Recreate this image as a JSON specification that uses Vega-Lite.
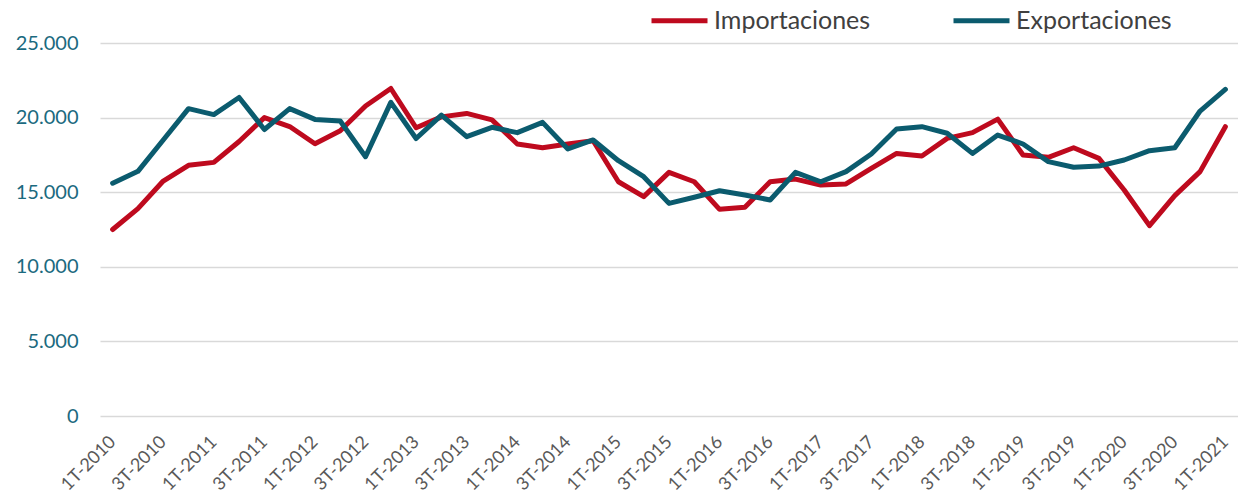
{
  "$schema": "https://vega.github.io/schema/vega-lite/v6.json",
  "width": 1138,
  "height": 373,
  "autosize": {"type": "none"},
  "padding": {"left": 100, "top": 43, "right": 0, "bottom": 80},
  "background": "#ffffff",
  "config": {
    "view": {"stroke": null},
    "locale": {"number": {"decimal": ",", "thousands": ".", "grouping": [3], "currency": ["", " €"]}},
    "axis": {"labelFont": "Lato", "titleFont": "Lato"},
    "legend": {"labelFont": "Lato"}
  },
  "data": {
    "values": [
      {"t": "1T-2010", "Importaciones": 12500, "Exportaciones": 15600},
      {"t": "2T-2010", "Importaciones": 13900, "Exportaciones": 16400},
      {"t": "3T-2010", "Importaciones": 15750, "Exportaciones": 18500},
      {"t": "4T-2010", "Importaciones": 16800, "Exportaciones": 20600},
      {"t": "1T-2011", "Importaciones": 17000, "Exportaciones": 20200},
      {"t": "2T-2011", "Importaciones": 18400, "Exportaciones": 21350},
      {"t": "3T-2011", "Importaciones": 20000, "Exportaciones": 19200},
      {"t": "4T-2011", "Importaciones": 19400, "Exportaciones": 20600},
      {"t": "1T-2012", "Importaciones": 18250, "Exportaciones": 19880},
      {"t": "2T-2012", "Importaciones": 19120, "Exportaciones": 19770},
      {"t": "3T-2012", "Importaciones": 20780, "Exportaciones": 17380},
      {"t": "4T-2012", "Importaciones": 21950, "Exportaciones": 21020},
      {"t": "1T-2013", "Importaciones": 19320, "Exportaciones": 18600},
      {"t": "2T-2013", "Importaciones": 20050, "Exportaciones": 20170},
      {"t": "3T-2013", "Importaciones": 20280, "Exportaciones": 18720},
      {"t": "4T-2013", "Importaciones": 19850, "Exportaciones": 19350},
      {"t": "1T-2014", "Importaciones": 18230, "Exportaciones": 18990},
      {"t": "2T-2014", "Importaciones": 17980, "Exportaciones": 19680},
      {"t": "3T-2014", "Importaciones": 18230, "Exportaciones": 17900},
      {"t": "4T-2014", "Importaciones": 18450, "Exportaciones": 18500},
      {"t": "1T-2015", "Importaciones": 15700, "Exportaciones": 17110},
      {"t": "2T-2015", "Importaciones": 14700, "Exportaciones": 16040},
      {"t": "3T-2015", "Importaciones": 16330, "Exportaciones": 14250},
      {"t": "4T-2015", "Importaciones": 15700, "Exportaciones": 14660},
      {"t": "1T-2016", "Importaciones": 13850, "Exportaciones": 15100},
      {"t": "2T-2016", "Importaciones": 13990, "Exportaciones": 14810},
      {"t": "3T-2016", "Importaciones": 15700, "Exportaciones": 14480},
      {"t": "4T-2016", "Importaciones": 15880, "Exportaciones": 16330},
      {"t": "1T-2017", "Importaciones": 15480, "Exportaciones": 15700},
      {"t": "2T-2017", "Importaciones": 15550, "Exportaciones": 16380},
      {"t": "3T-2017", "Importaciones": 16600, "Exportaciones": 17560},
      {"t": "4T-2017", "Importaciones": 17600, "Exportaciones": 19230},
      {"t": "1T-2018", "Importaciones": 17430, "Exportaciones": 19390},
      {"t": "2T-2018", "Importaciones": 18610, "Exportaciones": 18950},
      {"t": "3T-2018", "Importaciones": 18990, "Exportaciones": 17600},
      {"t": "4T-2018", "Importaciones": 19900, "Exportaciones": 18830},
      {"t": "1T-2019", "Importaciones": 17490, "Exportaciones": 18230},
      {"t": "2T-2019", "Importaciones": 17340, "Exportaciones": 17050},
      {"t": "3T-2019", "Importaciones": 17980, "Exportaciones": 16670},
      {"t": "4T-2019", "Importaciones": 17270, "Exportaciones": 16750},
      {"t": "1T-2020", "Importaciones": 15150, "Exportaciones": 17160},
      {"t": "2T-2020", "Importaciones": 12760, "Exportaciones": 17780},
      {"t": "3T-2020", "Importaciones": 14770, "Exportaciones": 17980},
      {"t": "4T-2020", "Importaciones": 16380, "Exportaciones": 20440},
      {"t": "1T-2021", "Importaciones": 19390, "Exportaciones": 21890}
    ]
  },
  "transform": [
    {"fold": ["Importaciones", "Exportaciones"], "as": ["serie", "valor"]}
  ],
  "encoding": {
    "x": {
      "field": "t",
      "type": "ordinal",
      "sort": null,
      "scale": {"type": "point", "padding": 0.5},
      "axis": {
        "title": null,
        "values": ["1T-2010","3T-2010","1T-2011","3T-2011","1T-2012","3T-2012","1T-2013","3T-2013","1T-2014","3T-2014","1T-2015","3T-2015","1T-2016","3T-2016","1T-2017","3T-2017","1T-2018","3T-2018","1T-2019","3T-2019","1T-2020","3T-2020","1T-2021"],
        "labelAngle": -45,
        "labelAlign": "right",
        "labelBaseline": "middle",
        "labelPadding": 23,
        "labelDx": 4,
        "labelFontSize": 18,
        "labelColor": "#595959",
        "ticks": false,
        "domain": false,
        "grid": false
      }
    },
    "y": {
      "field": "valor",
      "type": "quantitative",
      "scale": {"domain": [0, 25000], "nice": false},
      "axis": {
        "title": null,
        "values": [0, 5000, 10000, 15000, 20000, 25000],
        "format": ",d",
        "labelFontSize": 20,
        "labelColor": "#1B6A80",
        "labelPadding": 22,
        "ticks": false,
        "domain": false,
        "grid": true,
        "gridColor": "#D9D9D9",
        "gridWidth": 1.5
      }
    },
    "color": {
      "field": "serie",
      "type": "nominal",
      "scale": {"domain": ["Importaciones", "Exportaciones"], "range": ["#BE0A1E", "#0B5B6E"]},
      "legend": {
        "title": null,
        "orient": "none",
        "legendX": 549,
        "legendY": -53,
        "direction": "horizontal",
        "symbolType": "stroke",
        "symbolSize": 3136,
        "symbolStrokeWidth": 5,
        "labelFontSize": 25,
        "labelColor": "#404040",
        "labelOffset": 4,
        "columnPadding": 72,
        "labelLimit": 300
      }
    }
  },
  "layer": [
    {
      "transform": [{"filter": "datum.serie === 'Importaciones'"}],
      "mark": {"type": "line", "strokeWidth": 5, "strokeJoin": "round", "strokeCap": "round"}
    },
    {
      "transform": [{"filter": "datum.serie === 'Exportaciones'"}],
      "mark": {"type": "line", "strokeWidth": 5, "strokeJoin": "round", "strokeCap": "round"}
    }
  ]
}
